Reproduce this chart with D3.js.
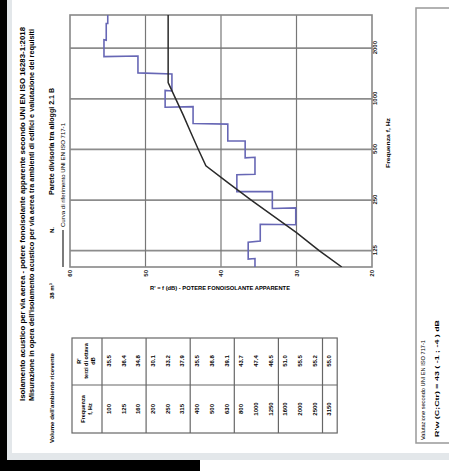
<!DOCTYPE html>
<html>
<head>
<meta charset="utf-8">
<script src="https://cdn.jsdelivr.net/npm/d3@7"></script>
<style>
body { margin: 0; background: #fff; }
svg { display: block; font-family: "Liberation Sans", Arial, sans-serif; }
</style>
</head>
<body>
<div id="grafico"></div>
<script>
var width = 449;
var height = 471;

// dati: bande di terzi di ottava
var frequenze = [100, 125, 160, 200, 250, 315, 400, 500, 630, 800, 1000, 1250, 1600, 2000, 2500, 3150];
var misurati = [35.5, 36.4, 34.8, 30.1, 33.2, 37.9, 35.5, 36.8, 39.1, 43.7, 47.4, 46.5, 51.0, 55.5, 55.2, 55.0];
var riferimento = [24, 27, 30, 33, 36, 39, 42, 43, 44, 45, 46, 47, 47, 47, 47, 47];
var tick_db = [20, 30, 40, 50, 60];
var tick_freq = [125, 250, 500, 1000, 2000];

var titolo1 = "Isolamento acustico per via aerea - potere fonoisolante apparente secondo UNI EN ISO 16283-1:2018";
var titolo2 = "Misurazione in opera dell'isolamento acustico per via aerea tra ambienti di edifici e valutazione dei requisiti";

var svg = d3.select("#grafico")
			.append("svg")
			.attr("width", width)
			.attr("height", height);

// bordi della scansione
svg.append("rect").attr("x", 0).attr("y", 0).attr("width", width).attr("height", height).attr("fill", "#fff");
svg.append("rect").attr("x", 0).attr("y", 0).attr("width", 7).attr("height", 460).attr("fill", "#000");
svg.append("rect").attr("x", 7).attr("y", 0).attr("width", 5).attr("height", 455).attr("fill", "#e3e7ea");
svg.append("rect").attr("x", 7).attr("y", 453).attr("width", width - 7).attr("height", 7).attr("fill", "#e3e7ea");
svg.append("rect").attr("x", 0).attr("y", 460).attr("width", 200).attr("height", 11).attr("fill", "#000");

// pagina ruotata di 90 gradi
var pagina = svg.append("g").attr("transform", "translate(0," + height + ") rotate(-90)");

pagina.append("text").attr("x", 70).attr("y", 25)
	.attr("font-size", 8).attr("font-weight", "bold")
	.attr("textLength", 374).attr("lengthAdjust", "spacingAndGlyphs")
	.text(titolo1);
pagina.append("text").attr("x", 70).attr("y", 34)
	.attr("font-size", 8).attr("font-weight", "bold")
	.attr("textLength", 372).attr("lengthAdjust", "spacingAndGlyphs")
	.text(titolo2);

pagina.append("text").attr("x", 28).attr("y", 54)
	.attr("font-size", 6).attr("font-weight", "bold")
	.attr("textLength", 90).attr("lengthAdjust", "spacingAndGlyphs")
	.text("Volume dell'ambiente ricevente");
pagina.append("text").attr("x", 172).attr("y", 54)
	.attr("font-size", 6).attr("font-weight", "bold")
	.text("38 m³");
pagina.append("text").attr("x", 238).attr("y", 54)
	.attr("font-size", 6).attr("font-weight", "bold")
	.text("N.");
pagina.append("text").attr("x", 276).attr("y", 54)
	.attr("font-size", 6.5).attr("font-weight", "bold")
	.attr("textLength", 107).attr("lengthAdjust", "spacingAndGlyphs")
	.text("Parete divisoria tra alloggi 2.1 B");

// grafico
var x = d3.scaleLog().domain([100, 3150]).range([204, 456]);
var y = d3.scaleLinear().domain([20, 60]).range([372, 70]);

// legenda
pagina.append("line").attr("x1", 204).attr("x2", 241).attr("y1", 63).attr("y2", 63)
	.attr("stroke", "#222").attr("stroke-width", 1.2);
pagina.append("text").attr("x", 244).attr("y", 65)
	.attr("font-size", 5.5)
	.attr("textLength", 104).attr("lengthAdjust", "spacingAndGlyphs")
	.text("Curva di riferimento UNI EN ISO 717-1");

var griglia = pagina.append("g");

tick_freq.forEach(function(f) {
	griglia.append("line")
		.attr("x1", x(f)).attr("x2", x(f))
		.attr("y1", 70).attr("y2", 372)
		.attr("stroke", "#8c8c8c").attr("stroke-width", 1.8);
});
[30, 40, 50].forEach(function(v) {
	griglia.append("line")
		.attr("x1", 204).attr("x2", 456)
		.attr("y1", y(v)).attr("y2", y(v))
		.attr("stroke", "#777").attr("stroke-width", 1.2);
});
griglia.append("rect").attr("x", 204).attr("y", 70).attr("width", 252).attr("height", 302)
	.attr("fill", "none").attr("stroke", "#888").attr("stroke-width", 1.6);

pagina.append("clipPath").attr("id", "area")
	.append("rect").attr("x", 204).attr("y", 70).attr("width", 252).attr("height", 302);

// curva misurata a gradini (bande di terzi di ottava)
var gradini = [];
frequenze.forEach(function(f, i) {
	gradini.push([f / Math.pow(2, 1 / 6), misurati[i]]);
	gradini.push([f * Math.pow(2, 1 / 6), misurati[i]]);
});

var linea = d3.line().x(function(d) { return x(d[0]); }).y(function(d) { return y(d[1]); });

pagina.append("path")
	.attr("clip-path", "url(#area)")
	.attr("d", linea(gradini))
	.attr("fill", "none").attr("stroke", "#6767b5").attr("stroke-width", 1.6);

pagina.append("path")
	.attr("clip-path", "url(#area)")
	.attr("d", linea(frequenze.map(function(f, i) { return [f, riferimento[i]]; })))
	.attr("fill", "none").attr("stroke", "#2a2a2a").attr("stroke-width", 1.5);

// assi
var asse_f = pagina.append("g").attr("transform", "translate(0,372)")
	.call(d3.axisBottom(x).tickValues(tick_freq).tickSize(0).tickPadding(1).tickFormat(d3.format("d")));
var asse_db = pagina.append("g").attr("transform", "translate(204,0)")
	.call(d3.axisLeft(y).tickValues(tick_db).tickSize(0).tickPadding(3));
[asse_f, asse_db].forEach(function(a) {
	a.select(".domain").remove();
	a.selectAll("text").attr("font-size", 6).attr("font-weight", "bold")
		.attr("font-family", "Liberation Sans, Arial, sans-serif").attr("fill", "#111");
});

pagina.append("text").attr("x", 328).attr("y", 390)
	.attr("text-anchor", "middle").attr("font-size", 5.5).attr("font-weight", "bold")
	.attr("textLength", 50).attr("lengthAdjust", "spacingAndGlyphs")
	.text("Frequenza f, Hz");

// titolo asse dB (orizzontale nella scansione)
svg.append("text").attr("x", 150).attr("y", 290)
	.attr("font-size", 5.5).attr("font-weight", "bold")
	.attr("textLength", 140).attr("lengthAdjust", "spacingAndGlyphs")
	.text("R' = f (dB)  -  POTERE FONOISOLANTE APPARENTE");

// tabella dei valori
var tabella = pagina.append("g");
var riga_h = 14.7;
var t_top = 102;
var t_bottom = t_top + riga_h * frequenze.length;

tabella.append("rect").attr("x", 38).attr("y", 72).attr("width", 95).attr("height", t_bottom - 72)
	.attr("fill", "none").attr("stroke", "#666").attr("stroke-width", 1.2);
tabella.append("line").attr("x1", 86).attr("x2", 86).attr("y1", 72).attr("y2", t_bottom)
	.attr("stroke", "#666").attr("stroke-width", 1.2);
for (var i = 0; i < frequenze.length; i += 3) {
	tabella.append("line").attr("x1", 38).attr("x2", 133)
		.attr("y1", t_top + i * riga_h).attr("y2", t_top + i * riga_h)
		.attr("stroke", "#666").attr("stroke-width", 1.2);
}

var intestazioni = [
	{x: 62, righe: ["Frequenza", "f, Hz"]},
	{x: 110, righe: ["R'", "terzi di ottava", "dB"]}
];
intestazioni.forEach(function(c) {
	c.righe.forEach(function(t, k) {
		tabella.append("text").attr("x", c.x)
			.attr("y", 87 - (c.righe.length - 1) * 3.5 + k * 7)
			.attr("text-anchor", "middle").attr("dominant-baseline", "middle")
			.attr("font-size", 5.5).attr("font-weight", "bold")
			.text(t);
	});
});

tabella.selectAll(".freq").data(frequenze).enter().append("text")
	.attr("x", 62).attr("y", function(d, i) { return t_top + (i + 0.5) * riga_h; })
	.attr("text-anchor", "middle").attr("dominant-baseline", "middle")
	.attr("font-size", 6).attr("font-weight", "bold")
	.text(function(d) { return d; });
tabella.selectAll(".val").data(misurati).enter().append("text")
	.attr("x", 110).attr("y", function(d, i) { return t_top + (i + 0.5) * riga_h; })
	.attr("text-anchor", "middle").attr("dominant-baseline", "middle")
	.attr("font-size", 6).attr("font-weight", "bold")
	.text(function(d) { return d.toFixed(1); });

// riquadro di valutazione
pagina.append("rect").attr("x", 28).attr("y", 416).attr("width", 435).attr("height", 40)
	.attr("fill", "none").attr("stroke", "#999").attr("stroke-width", 1.5);
pagina.append("text").attr("x", 31).attr("y", 425)
	.attr("font-size", 5.5)
	.attr("textLength", 100).attr("lengthAdjust", "spacingAndGlyphs")
	.text("Valutazione secondo UNI EN ISO 717-1");
pagina.append("text").attr("x", 34).attr("y", 439)
	.attr("font-size", 6).attr("font-weight", "bold")
	.attr("textLength", 117).attr("lengthAdjust", "spacingAndGlyphs")
	.text("R'w (C;Ctr) =   43   ( -1 ;  -4 )   dB");
</script>
</body>
</html>
